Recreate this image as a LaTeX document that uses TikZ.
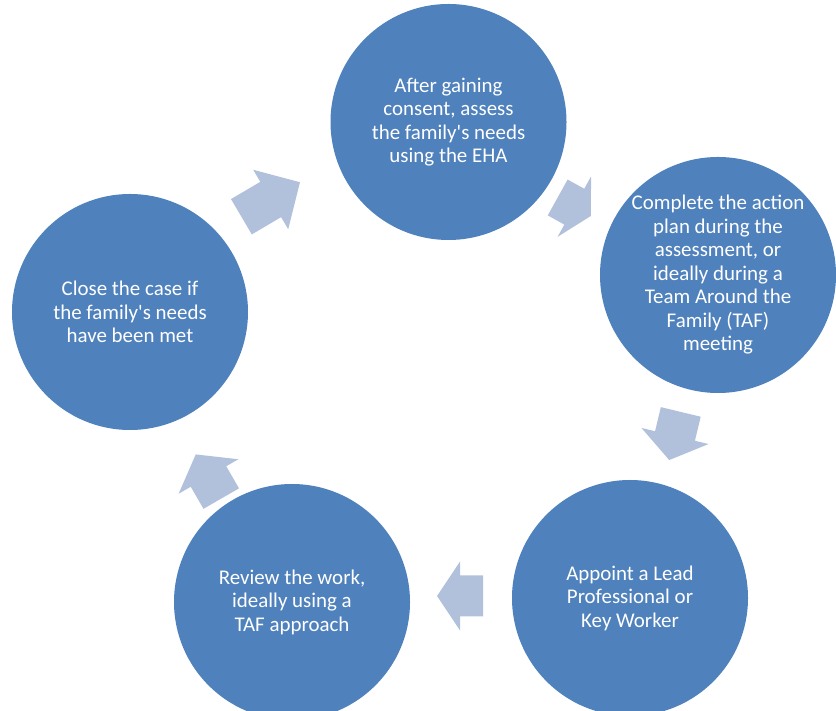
\documentclass[tikz,border=0pt]{standalone}
\usepackage{fontspec}
\setmainfont{Carlito}
\usepackage{xcolor}
\definecolor{stageblue}{RGB}{79,129,189}
\definecolor{flowblue}{RGB}{178,193,219}
\usepackage{tikz}
\usetikzlibrary{positioning, calc}

% block arrow: position, angle, length (head takes half the length)
\newcommand{\cyclearrow}[3]{%
  \fill[flowarrow, shift={(#1)}, rotate=#2]
    (-#3/2, -20.5) -- (0, -20.5) -- (0, -34.5) -- (#3/2, 0)
    -- (0, 34.5) -- (0, 20.5) -- (-#3/2, 20.5) -- cycle;}

\begin{document}
\begin{tikzpicture}[
  x=1bp, y=1bp,
  stage/.style={circle, fill=stageblue, minimum size=236bp, inner sep=0pt,
                text=white, align=center, font=\fontsize{21}{23.6}\selectfont},
  flowarrow/.style={fill=flowblue},
]
  \useasboundingbox (0, 0) rectangle (836, 711);

  % Stages
  \node[stage] (assess) at (448.5, 589) {After gaining\\consent, assess\\the family\textquotesingle s needs\\using the EHA};
  \node[stage] (plan) at (718, 436) {Complete the action\\plan during the\\assessment, or\\ideally during a\\Team Around the\\Family (TAF)\\meeting};
  \node[stage] (lead) at (630, 113) {Appoint a Lead\\Professional or\\Key Worker};
  \node[stage] (review) at (292, 109) {Review the work,\\ideally using a\\TAF approach};
  \node[stage] (close) at (130, 399) {Close the case if\\the family\textquotesingle s needs\\have been met};

  % Arrows between stages
  \cyclearrow{270.7, 511.5}{30.5}{68}
  \cyclearrow{574.3, 504.3}{-29}{38}
  \cyclearrow{675, 275}{-103.5}{49.5}
  \cyclearrow{460, 115}{180}{46}
  \cyclearrow{208.5, 234.5}{120}{51}
\end{tikzpicture}
\end{document}
